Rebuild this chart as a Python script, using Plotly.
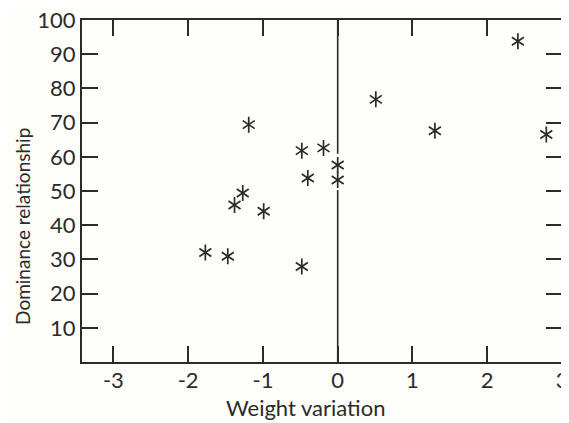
import plotly.graph_objects as go

# Data
weight_variation = [-1.19, -0.48, -0.19, 0.0, 0.0, -0.40, -1.27, -1.38, -0.99,
                    -1.77, -1.47, -0.48, 2.41, 0.51, 1.30, 2.79]
dominance = [69.4, 61.8, 62.6, 57.6, 53.2, 53.8, 49.4, 45.9, 44.1,
             32.0, 30.9, 27.9, 93.8, 76.8, 67.6, 66.5]

x_ticks = [-3, -2, -1, 0, 1, 2, 3]
y_ticks = [10, 20, 30, 40, 50, 60, 70, 80, 90, 100]

# zero line (broken around the points sitting on it)
zero_x = [0, 0, None, 0, 0]
zero_y = [0, 50.3, None, 60.9, 100]

ink = "#2b2b2b"
font = "Lato"

fig = go.Figure()
fig.add_trace(go.Scatter(x=zero_x, y=zero_y, mode="lines",
                         line=dict(color=ink, width=1.6), hoverinfo="skip",
                         showlegend=False))
# six-armed asterisk: overlay of a "Y" and an inverted "Y"
for sym in ["y-up-open", "y-down-open"]:
    fig.add_trace(go.Scatter(x=weight_variation, y=dominance, mode="markers",
                             marker=dict(symbol=sym, size=10, color=ink,
                                         line=dict(color=ink, width=1.7)),
                             showlegend=False))

# page body has an 8px margin, so the figure is sized/offset to compensate
fig.update_layout(
    width=561, height=415,
    margin=dict(l=74, r=7, t=12, b=61),
    paper_bgcolor="#fdfdf9", plot_bgcolor="#fdfdf9",
    font=dict(family=font, color=ink),
    annotations=[
        dict(text="Weight variation", xref="paper", yref="paper",
             x=0.4646, y=-0.1345, xanchor="center", yanchor="middle",
             showarrow=False, font=dict(size=22, family=font, color=ink)),
        dict(text="Dominance relationship", xref="paper", yref="paper",
             x=-0.1229, y=0.395, xanchor="center", yanchor="middle",
             textangle=-90, showarrow=False,
             font=dict(size=19, family=font, color=ink)),
    ],
)
fig.update_xaxes(range=[-3.42, 3.0], tickvals=x_ticks,
                 ticktext=["-3", "-2", "-1", "0", "1", "2", "3"],
                 ticks="inside", ticklen=16, tickwidth=1.5, tickcolor=ink,
                 showline=True, linecolor=ink, linewidth=2, mirror="allticks",
                 showgrid=False, zeroline=False, automargin=False,
                 ticklabeloverflow="allow",
                 tickfont=dict(size=22, family=font), ticklabelstandoff=-2)
fig.update_yaxes(range=[0, 100], tickvals=y_ticks,
                 ticks="inside", ticklen=16, tickwidth=1.5, tickcolor=ink,
                 showline=True, linecolor=ink, linewidth=2, mirror="allticks",
                 showgrid=False, zeroline=False, automargin=False,
                 ticklabeloverflow="allow",
                 tickfont=dict(size=22, family=font), ticklabelstandoff=0)

fig.write_html("out.html")
